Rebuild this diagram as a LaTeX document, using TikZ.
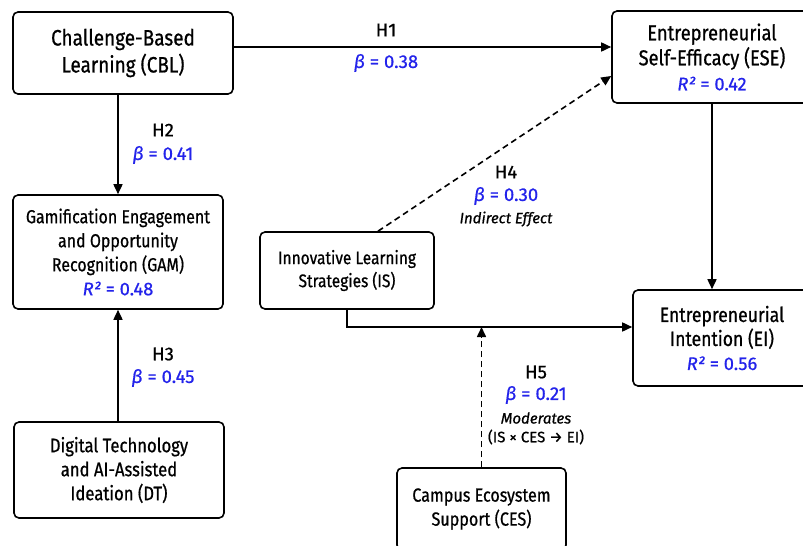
\documentclass[tikz,border=0pt]{standalone}
\usepackage{fontspec}
\setmainfont{Fira Sans}[FakeBold=0.7]
\newfontfamily\boxfont{Fira Sans}[FakeBold=0.7, FakeStretch=0.85]
\usetikzlibrary{arrows.meta}
\definecolor{statblue}{RGB}{35,35,235}
\newcommand{\bet}[1]{β\upshape\ = #1}
\newcommand{\rsq}[1]{{\rmfamily\fontsize{18.3}{24}\selectfont\color{statblue}\itshape R²\upshape\ = #1}}
\newcommand{\fs}[2]{\fontsize{#1}{#2}\selectfont}
\newcommand{\bfs}[2]{\boxfont\fontsize{#1}{#2}\selectfont}
\begin{document}
\begin{tikzpicture}[x=1pt,y=-1pt,
  box/.style={draw, line width=1.6pt, rounded corners=5pt, align=center,
    font=\bfs{18.5}{24}, inner sep=0pt},
  conn/.style={line width=1.6pt, -{Triangle[length=10pt,width=9pt]}},
  dconn/.style={conn, dash pattern=on 6pt off 4pt},
  hl/.style={font=\fs{18.5}{20}, inner sep=0pt},
  bl/.style={font=\fs{18.5}{20}\itshape, text=statblue, inner sep=0pt},
  note/.style={font=\fs{15}{18}, inner sep=0pt}]
\useasboundingbox[fill=white] (0,0) rectangle (803,546);
% boxes
\node[box, font=\bfs{22.3}{27}, minimum width=220pt, minimum height=82pt] (cbl) at (123,53) {Challenge-Based\\Learning (CBL)};
\node[box, font=\bfs{21.5}{25}, minimum width=200pt, minimum height=92pt] (ese) at (712,57) {Entrepreneurial\\Self-Efficacy (ESE)\\\rsq{0.42}};
\node[box, font=\bfs{18.8}{24}, minimum width=210pt, minimum height=114pt] (gam) at (118,252) {Gamification Engagement\\and Opportunity\\Recognition (GAM)\\\rsq{0.48}};
\node[box, font=\bfs{19.6}{24}, minimum width=210pt, minimum height=96pt] (dt) at (119,470) {Digital Technology\\and AI-Assisted\\Ideation (DT)};
\node[box, font=\bfs{18.2}{23}, minimum width=174pt, minimum height=77pt] (is) at (347,270.5) {Innovative Learning\\Strategies (IS)};
\node[box, font=\bfs{20.7}{24}, minimum width=178pt, minimum height=96pt] (ei) at (722,338) {Entrepreneurial\\Intention (EI)\\\rsq{0.56}};
\node[box, font=\bfs{19}{24}, minimum width=169pt, minimum height=82pt] (ces) at (481.5,509) {Campus Ecosystem\\Support (CES)};
% connectors
\draw[conn] ([yshift=6pt]cbl.east) -- ([yshift=10pt]ese.west);
\draw[conn] (cbl.south -| gam.north) -- (gam.north);
\draw[conn] (dt.north -| gam.south) -- (gam.south);
\draw[conn] (ese.south) -- (ese.south |- ei.north);
\draw[dconn] ([xshift=31pt]is.north) -- ([yshift=-19pt]ese.west);
\coordinate (isout) at ([yshift=11pt]ei.west);
\draw[conn] (is.south) |- (isout);
\coordinate (mod) at (ces.north |- isout);
\draw[dconn] (ces.north) -- (mod);
% labels
\node[hl] (h1) at (386,30) {H1};
\node[bl] (b1) at (386,63) {\bet{0.38}};
\node[hl] (h2) at (163,130) {H2};
\node[bl] (b2) at (163,155) {\bet{0.41}};
\node[hl] (h3) at (163,354) {H3};
\node[bl] (b3) at (163,378) {\bet{0.45}};
\node[hl] (h4) at (506,172) {H4};
\node[bl] (b4) at (506,196) {\bet{0.30}};
\node[note, font=\fs{15}{18}\itshape] (n4) at (506,219) {Indirect Effect};
\node[hl] (h5) at (536,372) {H5};
\node[bl] (b5) at (536,395) {\bet{0.21}};
\node[note, font=\fs{15}{18}\itshape] (n5) at (536,418) {Moderates};
\node[note] (n5b) at (536,437) {(IS × CES → EI)};
\end{tikzpicture}
\end{document}
